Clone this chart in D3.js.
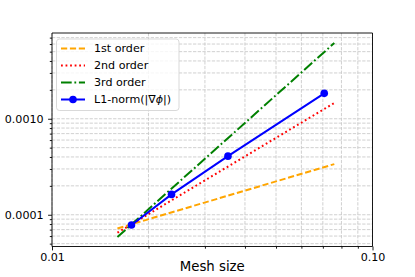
<!DOCTYPE html>
<html>
<head>
<meta charset="utf-8">
<script src="https://cdn.jsdelivr.net/npm/d3@7"></script>
<style>
  html, body { margin: 0; padding: 0; background: #fff; }
  svg { display: block; font-family: "DejaVu Sans", sans-serif; }
</style>
</head>
<body>
<svg id="chart" width="415" height="277"></svg>
<script>
// ---- data ----
const meshSize = [0.0177, 0.0236, 0.0354, 0.0707];
const l1Norm = [7.82e-5, 1.63e-4, 4.08e-4, 1.84e-3];
const refH = [0.016, 0.076];
const order1 = [7.2e-5, 3.37e-4];
const order2 = [6.5e-5, 1.46e-3];
const order3 = [5.86e-5, 6.15e-3];
const xMajorTicks = [0.01, 0.1];
const xTickLabels = ["0.01", "0.10"];
const xMinorTicks = [0.02, 0.03, 0.04, 0.05, 0.06, 0.07, 0.08, 0.09];
const yMajorTicks = [1e-4, 1e-3];
const yTickLabels = ["0.0001", "0.0010"];
const yMinorTicks = [5e-5, 6e-5, 7e-5, 8e-5, 9e-5, 2e-4, 3e-4, 4e-4, 5e-4, 6e-4, 7e-4, 8e-4, 9e-4, 2e-3, 3e-3, 4e-3, 5e-3, 6e-3, 7e-3];
const legendLabels = ["1st order", "2nd order", "3rd order", "L1-norm(|\u2207\u03D5|)"];

// ---- layout ----
const L = 52, R = 372.5, T = 33, B = 246.5;
const x = d3.scaleLog().domain([0.01, 0.1]).range([L, R]);
const y = d3.scaleLog().domain([4.67e-5, 7.82e-3]).range([B, T]);

const svg = d3.select("#chart");

// grid
const grid = svg.append("g");
const xGrid = xMajorTicks.concat(xMinorTicks);
const yGrid = yMajorTicks.concat(yMinorTicks);
grid.selectAll("line.gx").data(xGrid).enter().append("line")
  .attr("x1", d => x(d)).attr("x2", d => x(d)).attr("y1", T).attr("y2", B)
  .attr("stroke", "#cbcbcb").attr("stroke-width", 0.9).attr("stroke-dasharray", "3.3,1.4");
grid.selectAll("line.gy").data(yGrid).enter().append("line")
  .attr("y1", d => y(d)).attr("y2", d => y(d)).attr("x1", L).attr("x2", R)
  .attr("stroke", "#cbcbcb").attr("stroke-width", 0.9).attr("stroke-dasharray", "3.3,1.4");

// axes
function styleAxis(g) {
  g.select(".domain").remove();
  g.selectAll("line").attr("stroke", "#000").attr("stroke-width", 0.9);
  g.selectAll("text").attr("fill", "#000").style("font-family", "DejaVu Sans, sans-serif");
}
const xAxisMajor = d3.axisBottom(x).tickValues(xMajorTicks).tickSize(3.9).tickPadding(3)
  .tickFormat((d, i) => xTickLabels[i]);
svg.append("g").attr("transform", `translate(0,${B})`).call(xAxisMajor).call(styleAxis)
  .selectAll("text").attr("font-size", "11.1px");
const xAxisMinor = d3.axisBottom(x).tickValues(xMinorTicks).tickSize(2.2).tickFormat("");
svg.append("g").attr("transform", `translate(0,${B})`).call(xAxisMinor).call(styleAxis);

const yAxisMajor = d3.axisLeft(y).tickValues(yMajorTicks).tickSize(3.9).tickPadding(4.5)
  .tickFormat((d, i) => yTickLabels[i]);
svg.append("g").attr("transform", `translate(${L},0)`).call(yAxisMajor).call(styleAxis)
  .selectAll("text").attr("font-size", "11.1px");
const yAxisMinor = d3.axisLeft(y).tickValues(yMinorTicks).tickSize(2.2).tickFormat("");
svg.append("g").attr("transform", `translate(${L},0)`).call(yAxisMinor).call(styleAxis);

// reference lines
const line = d3.line().x(d => x(d[0])).y(d => y(d[1]));
const refs = [
  { vals: order1, color: "orange", dash: "6.2,2.7" },
  { vals: order2, color: "red", dash: "1.8,2.75" },
  { vals: order3, color: "green", dash: "10.7,2.7,1.8,2.7" }
];
refs.forEach(r => {
  svg.append("path").datum(refH.map((h, i) => [h, r.vals[i]]))
    .attr("d", line).attr("fill", "none").attr("stroke", r.color)
    .attr("stroke-width", 2).attr("stroke-dasharray", r.dash);
});

// data series
const pts = meshSize.map((h, i) => [h, l1Norm[i]]);
svg.append("path").datum(pts).attr("d", line).attr("fill", "none")
  .attr("stroke", "blue").attr("stroke-width", 2);
svg.selectAll("circle.pt").data(pts).enter().append("circle")
  .attr("cx", d => x(d[0])).attr("cy", d => y(d[1])).attr("r", 3.8).attr("fill", "blue");

// spines
svg.append("line").attr("x1", L).attr("x2", L).attr("y1", T).attr("y2", B).attr("stroke", "#000").attr("stroke-width", 0.9);
svg.append("line").attr("x1", L).attr("x2", R).attr("y1", T).attr("y2", T).attr("stroke", "#000").attr("stroke-width", 0.9);
svg.append("line").attr("x1", R).attr("x2", R).attr("y1", T).attr("y2", B).attr("stroke", "#000").attr("stroke-width", 0.9);
svg.append("line").attr("x1", L).attr("x2", R).attr("y1", B).attr("y2", B).attr("stroke", "#000").attr("stroke-width", 0.9);

// x label
svg.append("text").attr("x", (L + R) / 2).attr("y", 271).attr("text-anchor", "middle")
  .attr("font-size", "13.3px").attr("fill", "#000").text("Mesh size");

// legend
const lg = svg.append("g");
lg.append("rect").attr("x", 56.5).attr("y", 39).attr("width", 122.5).attr("height", 71.5)
  .attr("rx", 3).attr("fill", "#fff").attr("fill-opacity", 0.8)
  .attr("stroke", "#d5d5d5").attr("stroke-width", 0.9);
const legendStyles = [
  { color: "orange", dash: "6.2,2.7" },
  { color: "red", dash: "1.8,2.75" },
  { color: "green", dash: "10.7,2.7,1.8,2.7" },
  { color: "blue", dash: null, marker: true }
];
legendLabels.forEach((lab, i) => {
  const cy = 48.5 + i * 17;
  const s = legendStyles[i];
  const l = lg.append("line").attr("x1", 61).attr("x2", 85).attr("y1", cy).attr("y2", cy)
    .attr("stroke", s.color).attr("stroke-width", 2);
  if (s.dash) l.attr("stroke-dasharray", s.dash);
  if (s.marker) lg.append("circle").attr("cx", 73).attr("cy", cy).attr("r", 3.8).attr("fill", s.color);
  const t = lg.append("text").attr("x", 94).attr("y", cy).attr("dy", "0.36em")
    .attr("font-size", "11.1px").attr("fill", "#000");
  // render the phi in italic (math style), rest upright
  const parts = lab.split("\u03D5");
  parts.forEach((p, j) => {
    t.append("tspan").text(p);
    if (j < parts.length - 1) t.append("tspan").attr("font-style", "italic").text("\u03D5");
  });
});
</script>
</body>
</html>
